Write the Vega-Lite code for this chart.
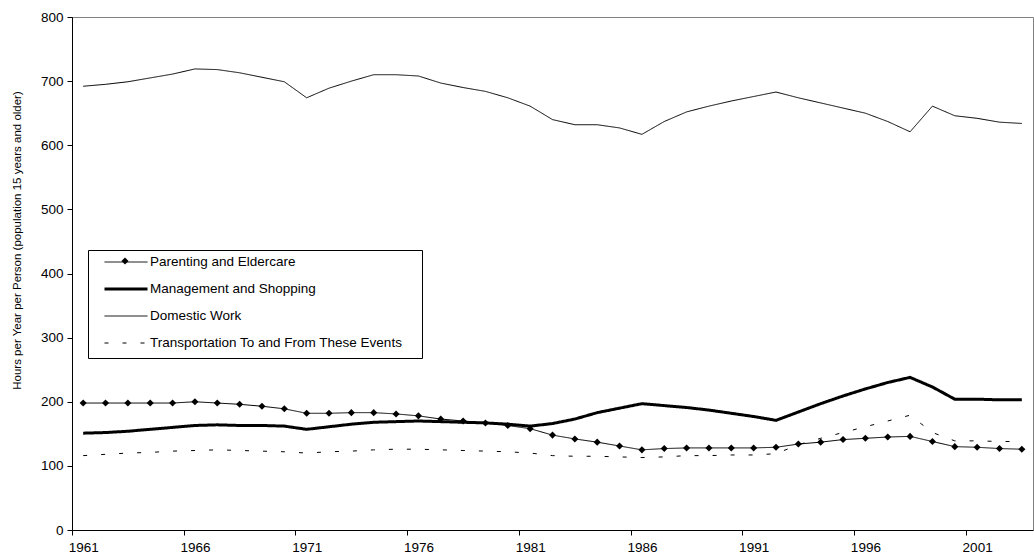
{
  "$schema": "https://vega.github.io/schema/vega-lite/v6.json",
  "width": 961,
  "height": 513,
  "autosize": {"type": "none"},
  "padding": {"left": 72, "top": 17, "right": 1, "bottom": 26},
  "background": "white",
  "config": {
    "font": "Liberation Sans",
    "view": {"stroke": "#808080", "strokeWidth": 1},
    "axis": {
      "grid": false,
      "domainColor": "black",
      "tickColor": "black",
      "labelColor": "black",
      "titleColor": "black",
      "labelFont": "Liberation Sans",
      "titleFont": "Liberation Sans",
      "labelFontSize": 13.5,
      "titleFontWeight": "normal",
      "tickSize": 5
    }
  },
  "datasets": {
    "hours": [
      {"year": 1961, "series": "Domestic Work", "hours": 692},
      {"year": 1962, "series": "Domestic Work", "hours": 695},
      {"year": 1963, "series": "Domestic Work", "hours": 699},
      {"year": 1964, "series": "Domestic Work", "hours": 705},
      {"year": 1965, "series": "Domestic Work", "hours": 711},
      {"year": 1966, "series": "Domestic Work", "hours": 719},
      {"year": 1967, "series": "Domestic Work", "hours": 718},
      {"year": 1968, "series": "Domestic Work", "hours": 713},
      {"year": 1969, "series": "Domestic Work", "hours": 706},
      {"year": 1970, "series": "Domestic Work", "hours": 699},
      {"year": 1971, "series": "Domestic Work", "hours": 674},
      {"year": 1972, "series": "Domestic Work", "hours": 689},
      {"year": 1973, "series": "Domestic Work", "hours": 700},
      {"year": 1974, "series": "Domestic Work", "hours": 710},
      {"year": 1975, "series": "Domestic Work", "hours": 710},
      {"year": 1976, "series": "Domestic Work", "hours": 708},
      {"year": 1977, "series": "Domestic Work", "hours": 697},
      {"year": 1978, "series": "Domestic Work", "hours": 690},
      {"year": 1979, "series": "Domestic Work", "hours": 684},
      {"year": 1980, "series": "Domestic Work", "hours": 674},
      {"year": 1981, "series": "Domestic Work", "hours": 661},
      {"year": 1982, "series": "Domestic Work", "hours": 640},
      {"year": 1983, "series": "Domestic Work", "hours": 632},
      {"year": 1984, "series": "Domestic Work", "hours": 632},
      {"year": 1985, "series": "Domestic Work", "hours": 627},
      {"year": 1986, "series": "Domestic Work", "hours": 617},
      {"year": 1987, "series": "Domestic Work", "hours": 637},
      {"year": 1988, "series": "Domestic Work", "hours": 652},
      {"year": 1989, "series": "Domestic Work", "hours": 661},
      {"year": 1990, "series": "Domestic Work", "hours": 669},
      {"year": 1991, "series": "Domestic Work", "hours": 676},
      {"year": 1992, "series": "Domestic Work", "hours": 683},
      {"year": 1993, "series": "Domestic Work", "hours": 674},
      {"year": 1994, "series": "Domestic Work", "hours": 666},
      {"year": 1995, "series": "Domestic Work", "hours": 658},
      {"year": 1996, "series": "Domestic Work", "hours": 650},
      {"year": 1997, "series": "Domestic Work", "hours": 637},
      {"year": 1998, "series": "Domestic Work", "hours": 621},
      {"year": 1999, "series": "Domestic Work", "hours": 661},
      {"year": 2000, "series": "Domestic Work", "hours": 646},
      {"year": 2001, "series": "Domestic Work", "hours": 642},
      {"year": 2002, "series": "Domestic Work", "hours": 636},
      {"year": 2003, "series": "Domestic Work", "hours": 634},

      {"year": 1961, "series": "Parenting and Eldercare", "hours": 198},
      {"year": 1962, "series": "Parenting and Eldercare", "hours": 198},
      {"year": 1963, "series": "Parenting and Eldercare", "hours": 198},
      {"year": 1964, "series": "Parenting and Eldercare", "hours": 198},
      {"year": 1965, "series": "Parenting and Eldercare", "hours": 198},
      {"year": 1966, "series": "Parenting and Eldercare", "hours": 200},
      {"year": 1967, "series": "Parenting and Eldercare", "hours": 198},
      {"year": 1968, "series": "Parenting and Eldercare", "hours": 196},
      {"year": 1969, "series": "Parenting and Eldercare", "hours": 193},
      {"year": 1970, "series": "Parenting and Eldercare", "hours": 189},
      {"year": 1971, "series": "Parenting and Eldercare", "hours": 182},
      {"year": 1972, "series": "Parenting and Eldercare", "hours": 182},
      {"year": 1973, "series": "Parenting and Eldercare", "hours": 183},
      {"year": 1974, "series": "Parenting and Eldercare", "hours": 183},
      {"year": 1975, "series": "Parenting and Eldercare", "hours": 181},
      {"year": 1976, "series": "Parenting and Eldercare", "hours": 178},
      {"year": 1977, "series": "Parenting and Eldercare", "hours": 173},
      {"year": 1978, "series": "Parenting and Eldercare", "hours": 170},
      {"year": 1979, "series": "Parenting and Eldercare", "hours": 167},
      {"year": 1980, "series": "Parenting and Eldercare", "hours": 163},
      {"year": 1981, "series": "Parenting and Eldercare", "hours": 158},
      {"year": 1982, "series": "Parenting and Eldercare", "hours": 148},
      {"year": 1983, "series": "Parenting and Eldercare", "hours": 142},
      {"year": 1984, "series": "Parenting and Eldercare", "hours": 137},
      {"year": 1985, "series": "Parenting and Eldercare", "hours": 131},
      {"year": 1986, "series": "Parenting and Eldercare", "hours": 125},
      {"year": 1987, "series": "Parenting and Eldercare", "hours": 127},
      {"year": 1988, "series": "Parenting and Eldercare", "hours": 128},
      {"year": 1989, "series": "Parenting and Eldercare", "hours": 128},
      {"year": 1990, "series": "Parenting and Eldercare", "hours": 128},
      {"year": 1991, "series": "Parenting and Eldercare", "hours": 128},
      {"year": 1992, "series": "Parenting and Eldercare", "hours": 129},
      {"year": 1993, "series": "Parenting and Eldercare", "hours": 134},
      {"year": 1994, "series": "Parenting and Eldercare", "hours": 137},
      {"year": 1995, "series": "Parenting and Eldercare", "hours": 141},
      {"year": 1996, "series": "Parenting and Eldercare", "hours": 143},
      {"year": 1997, "series": "Parenting and Eldercare", "hours": 145},
      {"year": 1998, "series": "Parenting and Eldercare", "hours": 146},
      {"year": 1999, "series": "Parenting and Eldercare", "hours": 138},
      {"year": 2000, "series": "Parenting and Eldercare", "hours": 130},
      {"year": 2001, "series": "Parenting and Eldercare", "hours": 129},
      {"year": 2002, "series": "Parenting and Eldercare", "hours": 127},
      {"year": 2003, "series": "Parenting and Eldercare", "hours": 126},

      {"year": 1961, "series": "Management and Shopping", "hours": 151},
      {"year": 1962, "series": "Management and Shopping", "hours": 152},
      {"year": 1963, "series": "Management and Shopping", "hours": 154},
      {"year": 1964, "series": "Management and Shopping", "hours": 157},
      {"year": 1965, "series": "Management and Shopping", "hours": 160},
      {"year": 1966, "series": "Management and Shopping", "hours": 163},
      {"year": 1967, "series": "Management and Shopping", "hours": 164},
      {"year": 1968, "series": "Management and Shopping", "hours": 163},
      {"year": 1969, "series": "Management and Shopping", "hours": 163},
      {"year": 1970, "series": "Management and Shopping", "hours": 162},
      {"year": 1971, "series": "Management and Shopping", "hours": 157},
      {"year": 1972, "series": "Management and Shopping", "hours": 161},
      {"year": 1973, "series": "Management and Shopping", "hours": 165},
      {"year": 1974, "series": "Management and Shopping", "hours": 168},
      {"year": 1975, "series": "Management and Shopping", "hours": 169},
      {"year": 1976, "series": "Management and Shopping", "hours": 170},
      {"year": 1977, "series": "Management and Shopping", "hours": 169},
      {"year": 1978, "series": "Management and Shopping", "hours": 168},
      {"year": 1979, "series": "Management and Shopping", "hours": 167},
      {"year": 1980, "series": "Management and Shopping", "hours": 165},
      {"year": 1981, "series": "Management and Shopping", "hours": 162},
      {"year": 1982, "series": "Management and Shopping", "hours": 166},
      {"year": 1983, "series": "Management and Shopping", "hours": 173},
      {"year": 1984, "series": "Management and Shopping", "hours": 183},
      {"year": 1985, "series": "Management and Shopping", "hours": 190},
      {"year": 1986, "series": "Management and Shopping", "hours": 197},
      {"year": 1987, "series": "Management and Shopping", "hours": 194},
      {"year": 1988, "series": "Management and Shopping", "hours": 191},
      {"year": 1989, "series": "Management and Shopping", "hours": 187},
      {"year": 1990, "series": "Management and Shopping", "hours": 182},
      {"year": 1991, "series": "Management and Shopping", "hours": 177},
      {"year": 1992, "series": "Management and Shopping", "hours": 171},
      {"year": 1993, "series": "Management and Shopping", "hours": 184},
      {"year": 1994, "series": "Management and Shopping", "hours": 197},
      {"year": 1995, "series": "Management and Shopping", "hours": 209},
      {"year": 1996, "series": "Management and Shopping", "hours": 220},
      {"year": 1997, "series": "Management and Shopping", "hours": 230},
      {"year": 1998, "series": "Management and Shopping", "hours": 238},
      {"year": 1999, "series": "Management and Shopping", "hours": 223},
      {"year": 2000, "series": "Management and Shopping", "hours": 204},
      {"year": 2001, "series": "Management and Shopping", "hours": 204},
      {"year": 2002, "series": "Management and Shopping", "hours": 203},
      {"year": 2003, "series": "Management and Shopping", "hours": 203},

      {"year": 1961, "series": "Transportation To and From These Events", "hours": 116},
      {"year": 1962, "series": "Transportation To and From These Events", "hours": 118},
      {"year": 1963, "series": "Transportation To and From These Events", "hours": 120},
      {"year": 1964, "series": "Transportation To and From These Events", "hours": 121},
      {"year": 1965, "series": "Transportation To and From These Events", "hours": 123},
      {"year": 1966, "series": "Transportation To and From These Events", "hours": 124},
      {"year": 1967, "series": "Transportation To and From These Events", "hours": 125},
      {"year": 1968, "series": "Transportation To and From These Events", "hours": 124},
      {"year": 1969, "series": "Transportation To and From These Events", "hours": 123},
      {"year": 1970, "series": "Transportation To and From These Events", "hours": 122},
      {"year": 1971, "series": "Transportation To and From These Events", "hours": 120},
      {"year": 1972, "series": "Transportation To and From These Events", "hours": 122},
      {"year": 1973, "series": "Transportation To and From These Events", "hours": 123},
      {"year": 1974, "series": "Transportation To and From These Events", "hours": 125},
      {"year": 1975, "series": "Transportation To and From These Events", "hours": 126},
      {"year": 1976, "series": "Transportation To and From These Events", "hours": 126},
      {"year": 1977, "series": "Transportation To and From These Events", "hours": 125},
      {"year": 1978, "series": "Transportation To and From These Events", "hours": 124},
      {"year": 1979, "series": "Transportation To and From These Events", "hours": 123},
      {"year": 1980, "series": "Transportation To and From These Events", "hours": 122},
      {"year": 1981, "series": "Transportation To and From These Events", "hours": 120},
      {"year": 1982, "series": "Transportation To and From These Events", "hours": 116},
      {"year": 1983, "series": "Transportation To and From These Events", "hours": 115},
      {"year": 1984, "series": "Transportation To and From These Events", "hours": 115},
      {"year": 1985, "series": "Transportation To and From These Events", "hours": 114},
      {"year": 1986, "series": "Transportation To and From These Events", "hours": 113},
      {"year": 1987, "series": "Transportation To and From These Events", "hours": 114},
      {"year": 1988, "series": "Transportation To and From These Events", "hours": 116},
      {"year": 1989, "series": "Transportation To and From These Events", "hours": 116},
      {"year": 1990, "series": "Transportation To and From These Events", "hours": 117},
      {"year": 1991, "series": "Transportation To and From These Events", "hours": 117},
      {"year": 1992, "series": "Transportation To and From These Events", "hours": 119},
      {"year": 1993, "series": "Transportation To and From These Events", "hours": 133},
      {"year": 1994, "series": "Transportation To and From These Events", "hours": 143},
      {"year": 1995, "series": "Transportation To and From These Events", "hours": 152},
      {"year": 1996, "series": "Transportation To and From These Events", "hours": 161},
      {"year": 1997, "series": "Transportation To and From These Events", "hours": 170},
      {"year": 1998, "series": "Transportation To and From These Events", "hours": 179},
      {"year": 1999, "series": "Transportation To and From These Events", "hours": 152},
      {"year": 2000, "series": "Transportation To and From These Events", "hours": 139},
      {"year": 2001, "series": "Transportation To and From These Events", "hours": 139},
      {"year": 2002, "series": "Transportation To and From These Events", "hours": 138},
      {"year": 2003, "series": "Transportation To and From These Events", "hours": 138}
    ]
  },
  "data": {"name": "hours"},
  "encoding": {
    "x": {
      "field": "year",
      "type": "quantitative",
      "scale": {"domain": [1960.5, 2003.5], "nice": false, "zero": false},
      "axis": {
        "title": null,
        "values": [1961, 1966, 1971, 1976, 1981, 1986, 1991, 1996, 2001],
        "format": "d",
        "tickOffset": -11.17,
        "labelOffset": 11.17,
        "labelPadding": 5,
        "labelOverlap": false,
        "labelFlush": false
      }
    },
    "y": {
      "field": "hours",
      "type": "quantitative",
      "scale": {"domain": [0, 800], "nice": false},
      "axis": {
        "title": "Hours per Year per Person (population 15 years and older)",
        "values": [0, 100, 200, 300, 400, 500, 600, 700, 800],
        "labelPadding": 4,
        "titleFontSize": 11.5,
        "titleX": -50,
        "titleY": 223,
        "titleAlign": "center",
        "titleAnchor": null
      }
    }
  },
  "layer": [
    {
      "mark": {"type": "line", "color": "black", "strokeCap": "butt"},
      "encoding": {
        "detail": {"field": "series"},
        "strokeWidth": {
          "field": "series",
          "type": "nominal",
          "scale": {
            "type": "ordinal",
            "domain": ["Parenting and Eldercare", "Management and Shopping", "Domestic Work", "Transportation To and From These Events"],
            "range": [1, 3, 1, 1]
          },
          "legend": {
            "title": " ",
            "orient": "none",
            "legendX": 16,
            "legendY": 233,
            "strokeColor": "black",
            "fillColor": "white",
            "padding": 8,
            "symbolType": "stroke",
            "symbolSize": 1849,
            "symbolStrokeColor": "black",
            "clipHeight": 8,
            "rowPadding": 13,
            "symbolOffset": 7,
            "labelOffset": 1,
            "labelFontSize": 13.5,
            "labelColor": "black",
            "labelLimit": 400,
            "titleOrient": "right",
            "titlePadding": 12,
            "titleFontSize": 13.5,
            "zindex": 1
          }
        },
        "strokeDash": {
          "field": "series",
          "type": "nominal",
          "scale": {
            "type": "ordinal",
            "domain": ["Parenting and Eldercare", "Management and Shopping", "Domestic Work", "Transportation To and From These Events"],
            "range": [[1, 0], [1, 0], [1, 0], [4, 14]]
          },
          "legend": {
            "title": " ",
            "orient": "none",
            "legendX": 16,
            "legendY": 233,
            "strokeColor": "black",
            "fillColor": "white",
            "padding": 8,
            "symbolType": "stroke",
            "symbolSize": 1849,
            "symbolStrokeColor": "black",
            "clipHeight": 8,
            "rowPadding": 13,
            "symbolOffset": 7,
            "labelOffset": 1,
            "labelFontSize": 13.5,
            "labelColor": "black",
            "labelLimit": 400,
            "titleOrient": "right",
            "titlePadding": 12,
            "titleFontSize": 13.5,
            "zindex": 1
          }
        }
      }
    },
    {
      "transform": [{"filter": "datum.series === 'Parenting and Eldercare'"}],
      "mark": {"type": "point", "filled": true, "size": 50, "color": "black", "opacity": 1},
      "encoding": {
        "shape": {
          "field": "series",
          "type": "nominal",
          "scale": {"domain": ["Parenting and Eldercare"], "range": ["diamond"]},
          "legend": {
            "title": null,
            "orient": "none",
            "legendX": 49,
            "legendY": 240,
            "padding": 0,
            "symbolOffset": 0,
            "symbolSize": 50,
            "symbolFillColor": "black",
            "symbolStrokeColor": "black",
            "symbolStrokeWidth": 0,
            "symbolOpacity": 1,
            "clipHeight": 8,
            "labelExpr": "''",
            "labelFontSize": 1,
            "zindex": 2
          }
        }
      }
    }
  ]
}
